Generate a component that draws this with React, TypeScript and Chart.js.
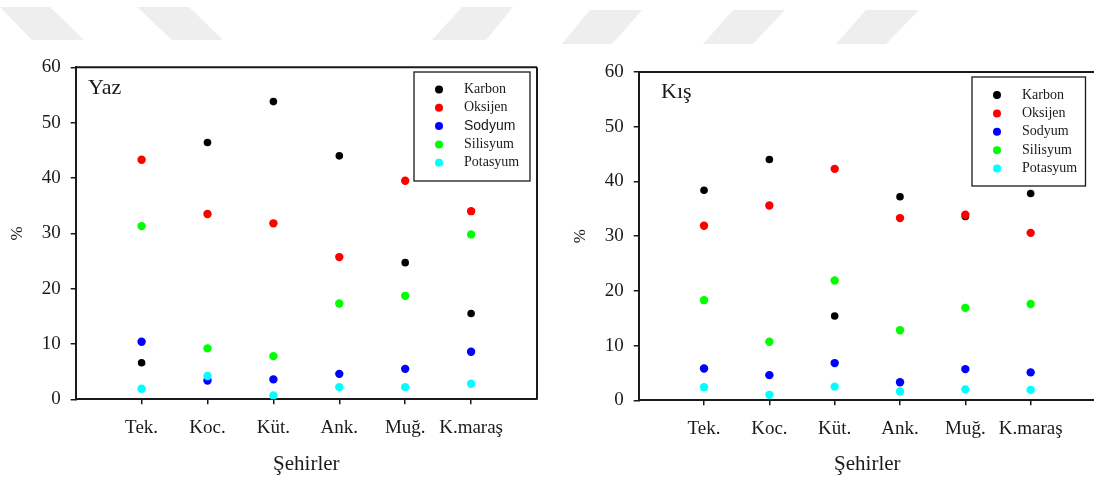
import React, { useEffect, useRef } from 'react';
import { Chart, registerables } from 'chart.js';

Chart.register(...registerables);

// ---------- data ----------
const cities = ['Tek.', 'Koc.', 'Küt.', 'Ank.', 'Muğ.', 'K.maraş'];
const seriesNames = ['Karbon', 'Oksijen', 'Sodyum', 'Silisyum', 'Potasyum'];
const seriesColors = ['#000000', '#ff0000', '#0000ff', '#00ff00', '#00ffff'];
const yTickStep = 10;
const yMin = 0;
const yMax = 60;
const xAxisTitle = 'Şehirler';
const yAxisTitle = '%';

// Yaz (summer)
const yazKarbon = [6.6, 46.4, 53.8, 44.0, 24.7, 15.5];
const yazOksijen = [43.3, 33.5, 31.8, 25.7, 39.5, 34.0];
const yazSodyum = [10.4, 3.4, 3.6, 4.6, 5.5, 8.6];
const yazSilisyum = [31.3, 9.2, 7.8, 17.3, 18.7, 29.8];
const yazPotasyum = [1.9, 4.2, 0.7, 2.2, 2.2, 2.8];

// Kış (winter)
const kisKarbon = [38.4, 44.0, 15.4, 37.2, 33.6, 37.8];
const kisOksijen = [31.9, 35.6, 42.3, 33.3, 33.9, 30.6];
const kisSodyum = [5.8, 4.6, 6.8, 3.3, 5.7, 5.1];
const kisSilisyum = [18.3, 10.7, 21.9, 12.8, 16.9, 17.6];
const kisPotasyum = [2.4, 1.0, 2.5, 1.6, 2.0, 1.9];

const SERIF = '"Liberation Serif", "Times New Roman", serif';
const SANS = '"Liberation Sans", Arial, sans-serif';
const INK = '#1a1a1a';

type PanelCfg = {
  label: string;
  values: number[][];
  width: number;
  height: number;
  padding: { left: number; top: number; right: number; bottom: number };
  yAxisWidth: number;
  xAxisHeight: number;
  xMax: number;
  rightBorder: boolean;
  labelDx: number;
  labelDy: number;
  legendFromRight: boolean;
  legendDx: number;
  legendDy: number;
  legendW: number;
  legendH: number;
  legendRow0: number;
  legendStep: number;
  sansIndex: number; // legend entry drawn in sans-serif (-1 none)
};

const framePlugin = {
  id: 'frame',
  afterDraw(chart: any, _args: any, opts: any) {
    const { ctx, chartArea: a } = chart;
    ctx.save();
    // top & right border of the plot box
    ctx.strokeStyle = INK;
    ctx.lineWidth = 2;
    ctx.beginPath();
    ctx.moveTo(a.left, a.top);
    ctx.lineTo(a.right, a.top);
    if (opts.rightBorder) {
      ctx.moveTo(a.right, a.top);
      ctx.lineTo(a.right, a.bottom);
    }
    ctx.stroke();

    // panel label
    ctx.fillStyle = INK;
    ctx.font = `22px ${SERIF}`;
    ctx.textBaseline = 'alphabetic';
    ctx.textAlign = 'left';
    ctx.fillText(opts.label, a.left + opts.labelDx, a.top + opts.labelDy);

    // legend box
    const bx = opts.legendFromRight ? a.right + opts.legendDx : a.left + opts.legendDx;
    const by = a.top + opts.legendDy;
    ctx.lineWidth = 1.3;
    ctx.strokeStyle = INK;
    ctx.fillStyle = '#ffffff';
    ctx.fillRect(bx, by, opts.legendW, opts.legendH);
    ctx.strokeRect(bx, by, opts.legendW, opts.legendH);
    chart.data.datasets.forEach((ds: any, i: number) => {
      const y = by + opts.legendRow0 + i * opts.legendStep;
      ctx.beginPath();
      ctx.fillStyle = ds.backgroundColor;
      ctx.arc(bx + 25, y, 4, 0, Math.PI * 2);
      ctx.fill();
      ctx.fillStyle = INK;
      ctx.font = i === opts.sansIndex ? `14px ${SANS}` : `14px ${SERIF}`;
      ctx.textBaseline = 'middle';
      ctx.fillText(ds.label, bx + 50, y);
    });
    ctx.restore();
  },
};

function Panel({ cfg, left }: { cfg: PanelCfg; left: number }) {
  const ref = useRef<HTMLCanvasElement | null>(null);
  useEffect(() => {
    if (!ref.current) return;
    const datasets = seriesNames.map((name, i) => ({
      label: name,
      data: cfg.values[i].map((v, j) => ({ x: j + 1, y: v })),
      backgroundColor: seriesColors[i],
      borderColor: seriesColors[i],
      borderWidth: 0,
      pointRadius: i === 0 ? 3.8 : 4.2,
      pointHoverRadius: i === 0 ? 3.8 : 4.2,
      order: seriesNames.length - i,
    }));
    const chart = new Chart(ref.current, {
      type: 'scatter',
      data: { datasets },
      plugins: [framePlugin],
      options: {
        responsive: false,
        animation: false,
        events: [],
        layout: { padding: cfg.padding },
        plugins: {
          legend: { display: false },
          tooltip: { enabled: false },
          frame: {
            label: cfg.label,
            rightBorder: cfg.rightBorder,
            labelDx: cfg.labelDx,
            labelDy: cfg.labelDy,
            legendFromRight: cfg.legendFromRight,
            legendDx: cfg.legendDx,
            legendDy: cfg.legendDy,
            legendW: cfg.legendW,
            legendH: cfg.legendH,
            legendRow0: cfg.legendRow0,
            legendStep: cfg.legendStep,
            sansIndex: cfg.sansIndex,
          },
        } as any,
        scales: {
          x: {
            type: 'linear',
            min: 0,
            max: cfg.xMax,
            afterBuildTicks: (axis: any) => {
              axis.ticks = cities.map((_, i) => ({ value: i + 1 }));
            },
            afterFit: (s: any) => {
              s.height = cfg.xAxisHeight;
            },
            ticks: {
              autoSkip: false,
              maxRotation: 0,
              padding: 12,
              color: INK,
              font: { family: SERIF, size: 19 },
              callback: (v: any) => cities[Math.round(Number(v)) - 1] ?? '',
            },
            grid: {
              drawOnChartArea: false,
              drawTicks: true,
              tickLength: 5,
              color: INK,
              lineWidth: 1.5,
            },
            border: { display: true, color: INK, width: 2 },
            title: {
              display: true,
              text: xAxisTitle,
              color: INK,
              font: { family: SERIF, size: 21 },
              padding: { top: 0, bottom: 2 },
            },
          },
          y: {
            type: 'linear',
            min: yMin,
            max: yMax,
            afterFit: (s: any) => {
              s.width = cfg.yAxisWidth;
            },
            ticks: {
              stepSize: yTickStep,
              padding: 10,
              color: INK,
              font: { family: SERIF, size: 19 },
            },
            grid: {
              drawOnChartArea: false,
              drawTicks: true,
              tickLength: 5,
              color: INK,
              lineWidth: 1.5,
            },
            border: { display: true, color: INK, width: 2 },
            title: {
              display: true,
              text: yAxisTitle,
              color: INK,
              font: { family: SERIF, size: 17 },
              padding: { top: 7, bottom: 0 },
            },
          },
        },
      } as any,
    });
    return () => chart.destroy();
  }, [cfg]);
  return (
    <canvas
      ref={ref}
      width={cfg.width}
      height={cfg.height}
      style={{ position: 'absolute', left, top: 0, width: cfg.width, height: cfg.height }}
    />
  );
}

const yazCfg: PanelCfg = {
  label: 'Yaz',
  values: [yazKarbon, yazOksijen, yazSodyum, yazSilisyum, yazPotasyum],
  width: 547,
  height: 479,
  padding: { left: 0, top: 67.3, right: 10, bottom: 0 },
  yAxisWidth: 75.7,
  xAxisHeight: 79.7,
  xMax: 7,
  rightBorder: true,
  labelDx: 12.3,
  labelDy: 26.7,
  legendFromRight: true,
  legendDx: -123,
  legendDy: 4.7,
  legendW: 116,
  legendH: 109,
  legendRow0: 17.5,
  legendStep: 18.3,
  sansIndex: 2,
};

// the right panel's frame runs past the page edge, so its canvas is wider and clipped
const kisCfg: PanelCfg = {
  label: 'Kış',
  values: [kisKarbon, kisOksijen, kisSodyum, kisSilisyum, kisPotasyum],
  width: 556,
  height: 479,
  padding: { left: 13, top: 72, right: 10, bottom: 0 },
  yAxisWidth: 75.7,
  xAxisHeight: 78.7,
  xMax: 7,
  rightBorder: false,
  labelDx: 22.3,
  labelDy: 26.3,
  legendFromRight: false,
  legendDx: 333.3,
  legendDy: 5,
  legendW: 113.5,
  legendH: 109,
  legendRow0: 18,
  legendStep: 18.4,
  sansIndex: -1,
};

// faint watermark strips along the top edge of the page
const watermark: { y: [number, number]; top: [number, number]; bottom: [number, number] }[] = [
  { y: [7, 40], top: [0, 50], bottom: [32, 84] },
  { y: [7, 40], top: [137, 189], bottom: [172, 223] },
  { y: [7, 40], top: [462, 513], bottom: [432, 486] },
  { y: [10, 44], top: [590, 642], bottom: [562, 612] },
  { y: [10, 44], top: [733, 785], bottom: [703, 753] },
  { y: [10, 44], top: [866, 919], bottom: [836, 886] },
];

export default function App() {
  return (
    <div
      style={{
        position: 'absolute',
        left: 0,
        top: 0,
        width: 1094,
        height: 479,
        background: '#ffffff',
        overflow: 'hidden',
      }}
    >
      <svg width={1094} height={60} style={{ position: 'absolute', left: 0, top: 0 }}>
        {watermark.map((w, i) => (
          <polygon
            key={i}
            points={`${w.top[0]},${w.y[0]} ${w.top[1]},${w.y[0]} ${w.bottom[1]},${w.y[1]} ${w.bottom[0]},${w.y[1]}`}
            fill="#eeeeee"
          />
        ))}
      </svg>
      <Panel cfg={yazCfg} left={0} />
      <Panel cfg={kisCfg} left={550} />
    </div>
  );
}
